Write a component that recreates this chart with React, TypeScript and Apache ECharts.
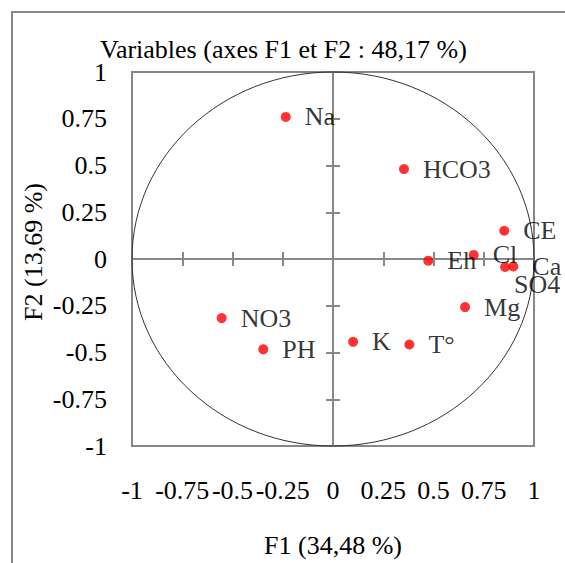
import React, { useEffect, useRef } from "react";
import * as echarts from "echarts";

const variables = ["Na", "HCO3", "CE", "Eh", "Cl", "SO4", "Ca", "Mg", "NO3", "PH", "K", "T°"];
const f1Values = [-0.235, 0.353, 0.852, 0.474, 0.7, 0.856, 0.897, 0.657, -0.554, -0.347, 0.1, 0.38];
const f2Values = [0.76, 0.481, 0.151, -0.009, 0.022, -0.043, -0.04, -0.257, -0.316, -0.483, -0.443, -0.457];
const axisMin = -1;
const axisMax = 1;
const axisInterval = 0.25;
const circleRadius = 1;

const titleText = "Variables (axes F1 et F2 : 48,17 %)";
const xName = "F1 (34,48 %)";
const yName = "F2 (13,69 %)";

const labelShift: Record<string, number[]> = { SO4: [-10, 17] };

const FONT = "'Liberation Serif', 'Times New Roman', serif";
const GRAY = "#888888";

export default function App() {
  const ref = useRef<HTMLDivElement>(null);
  useEffect(() => {
    if (!ref.current) return;
    const chart = echarts.init(ref.current, null, { renderer: "svg" });
    const baseAxis = {
      type: "value" as const,
      min: axisMin,
      max: axisMax,
      interval: axisInterval,
      splitLine: { show: false },
    };
    const zeroAxis = (position: string) => ({
      ...baseAxis,
      position,
      axisLine: { show: true, onZero: true, onZeroAxisIndex: 0, lineStyle: { color: GRAY, width: 2 } },
      axisTick: { show: true, length: 7, lineStyle: { color: GRAY, width: 2 } },
      axisLabel: { show: false },
    });
    const textStyle = { fontFamily: FONT, fontSize: 26, color: "#000" };
    chart.setOption({
      animation: false,
      backgroundColor: "#fff",
      title: {
        text: titleText,
        left: 95,
        top: 31,
        textStyle: { ...textStyle, fontWeight: "normal" },
      },
      grid: {
        left: 132,
        top: 72,
        width: 402,
        height: 385,
        show: true,
        borderColor: GRAY,
        borderWidth: 2,
        containLabel: false,
      },
      xAxis: [
        {
          ...baseAxis,
          position: "bottom",
          axisLine: { show: false, onZero: false },
          axisTick: { show: false },
          axisLabel: { ...textStyle, margin: 31 },
          name: xName,
          nameLocation: "middle",
          nameGap: 86,
          nameTextStyle: textStyle,
        },
        zeroAxis("bottom"),
        zeroAxis("top"),
      ],
      yAxis: [
        {
          ...baseAxis,
          position: "left",
          axisLine: { show: false, onZero: false },
          axisTick: { show: false },
          axisLabel: { ...textStyle, margin: 25 },
        },
        zeroAxis("left"),
        zeroAxis("right"),
      ],
      graphic: [
        {
          type: "rect",
          shape: { x: 12, y: 12, width: 600, height: 600 },
          style: { fill: "none", stroke: GRAY, lineWidth: 2 },
          z: -10,
          silent: true,
        },
        {
          type: "text",
          x: 33,
          y: 252,
          rotation: Math.PI / 2,
          style: {
            text: yName,
            font: `26px ${FONT}`,
            fill: "#000",
            align: "center",
            verticalAlign: "middle",
          },
        },
      ],
      series: [
        {
          type: "custom",
          xAxisIndex: 0,
          yAxisIndex: 0,
          silent: true,
          z: 1,
          data: [[0, 0]],
          renderItem: (params: any, api: any) => {
            const c = api.coord([api.value(0), api.value(1)]);
            const s = api.size([circleRadius, circleRadius]);
            return {
              type: "ellipse",
              shape: { cx: c[0], cy: c[1], rx: s[0], ry: s[1] },
              style: { fill: "none", stroke: "#333", lineWidth: 1 },
            };
          },
        },
        {
          type: "scatter",
          xAxisIndex: 0,
          yAxisIndex: 0,
          symbolSize: 10,
          z: 5,
          itemStyle: { color: "#ff0000" },
          label: {
            show: true,
            position: "right",
            distance: 14,
            formatter: "{b}",
            ...textStyle,
          },
          data: variables.map((n, i) => ({
            name: n,
            value: [f1Values[i], f2Values[i]],
            label: labelShift[n] ? { offset: labelShift[n] } : undefined,
          })),
        },
      ],
    });
    return () => chart.dispose();
  }, []);
  return (
    <div
      ref={ref}
      style={{ position: "fixed", left: 0, top: 0, width: 565, height: 563 }}
    />
  );
}
